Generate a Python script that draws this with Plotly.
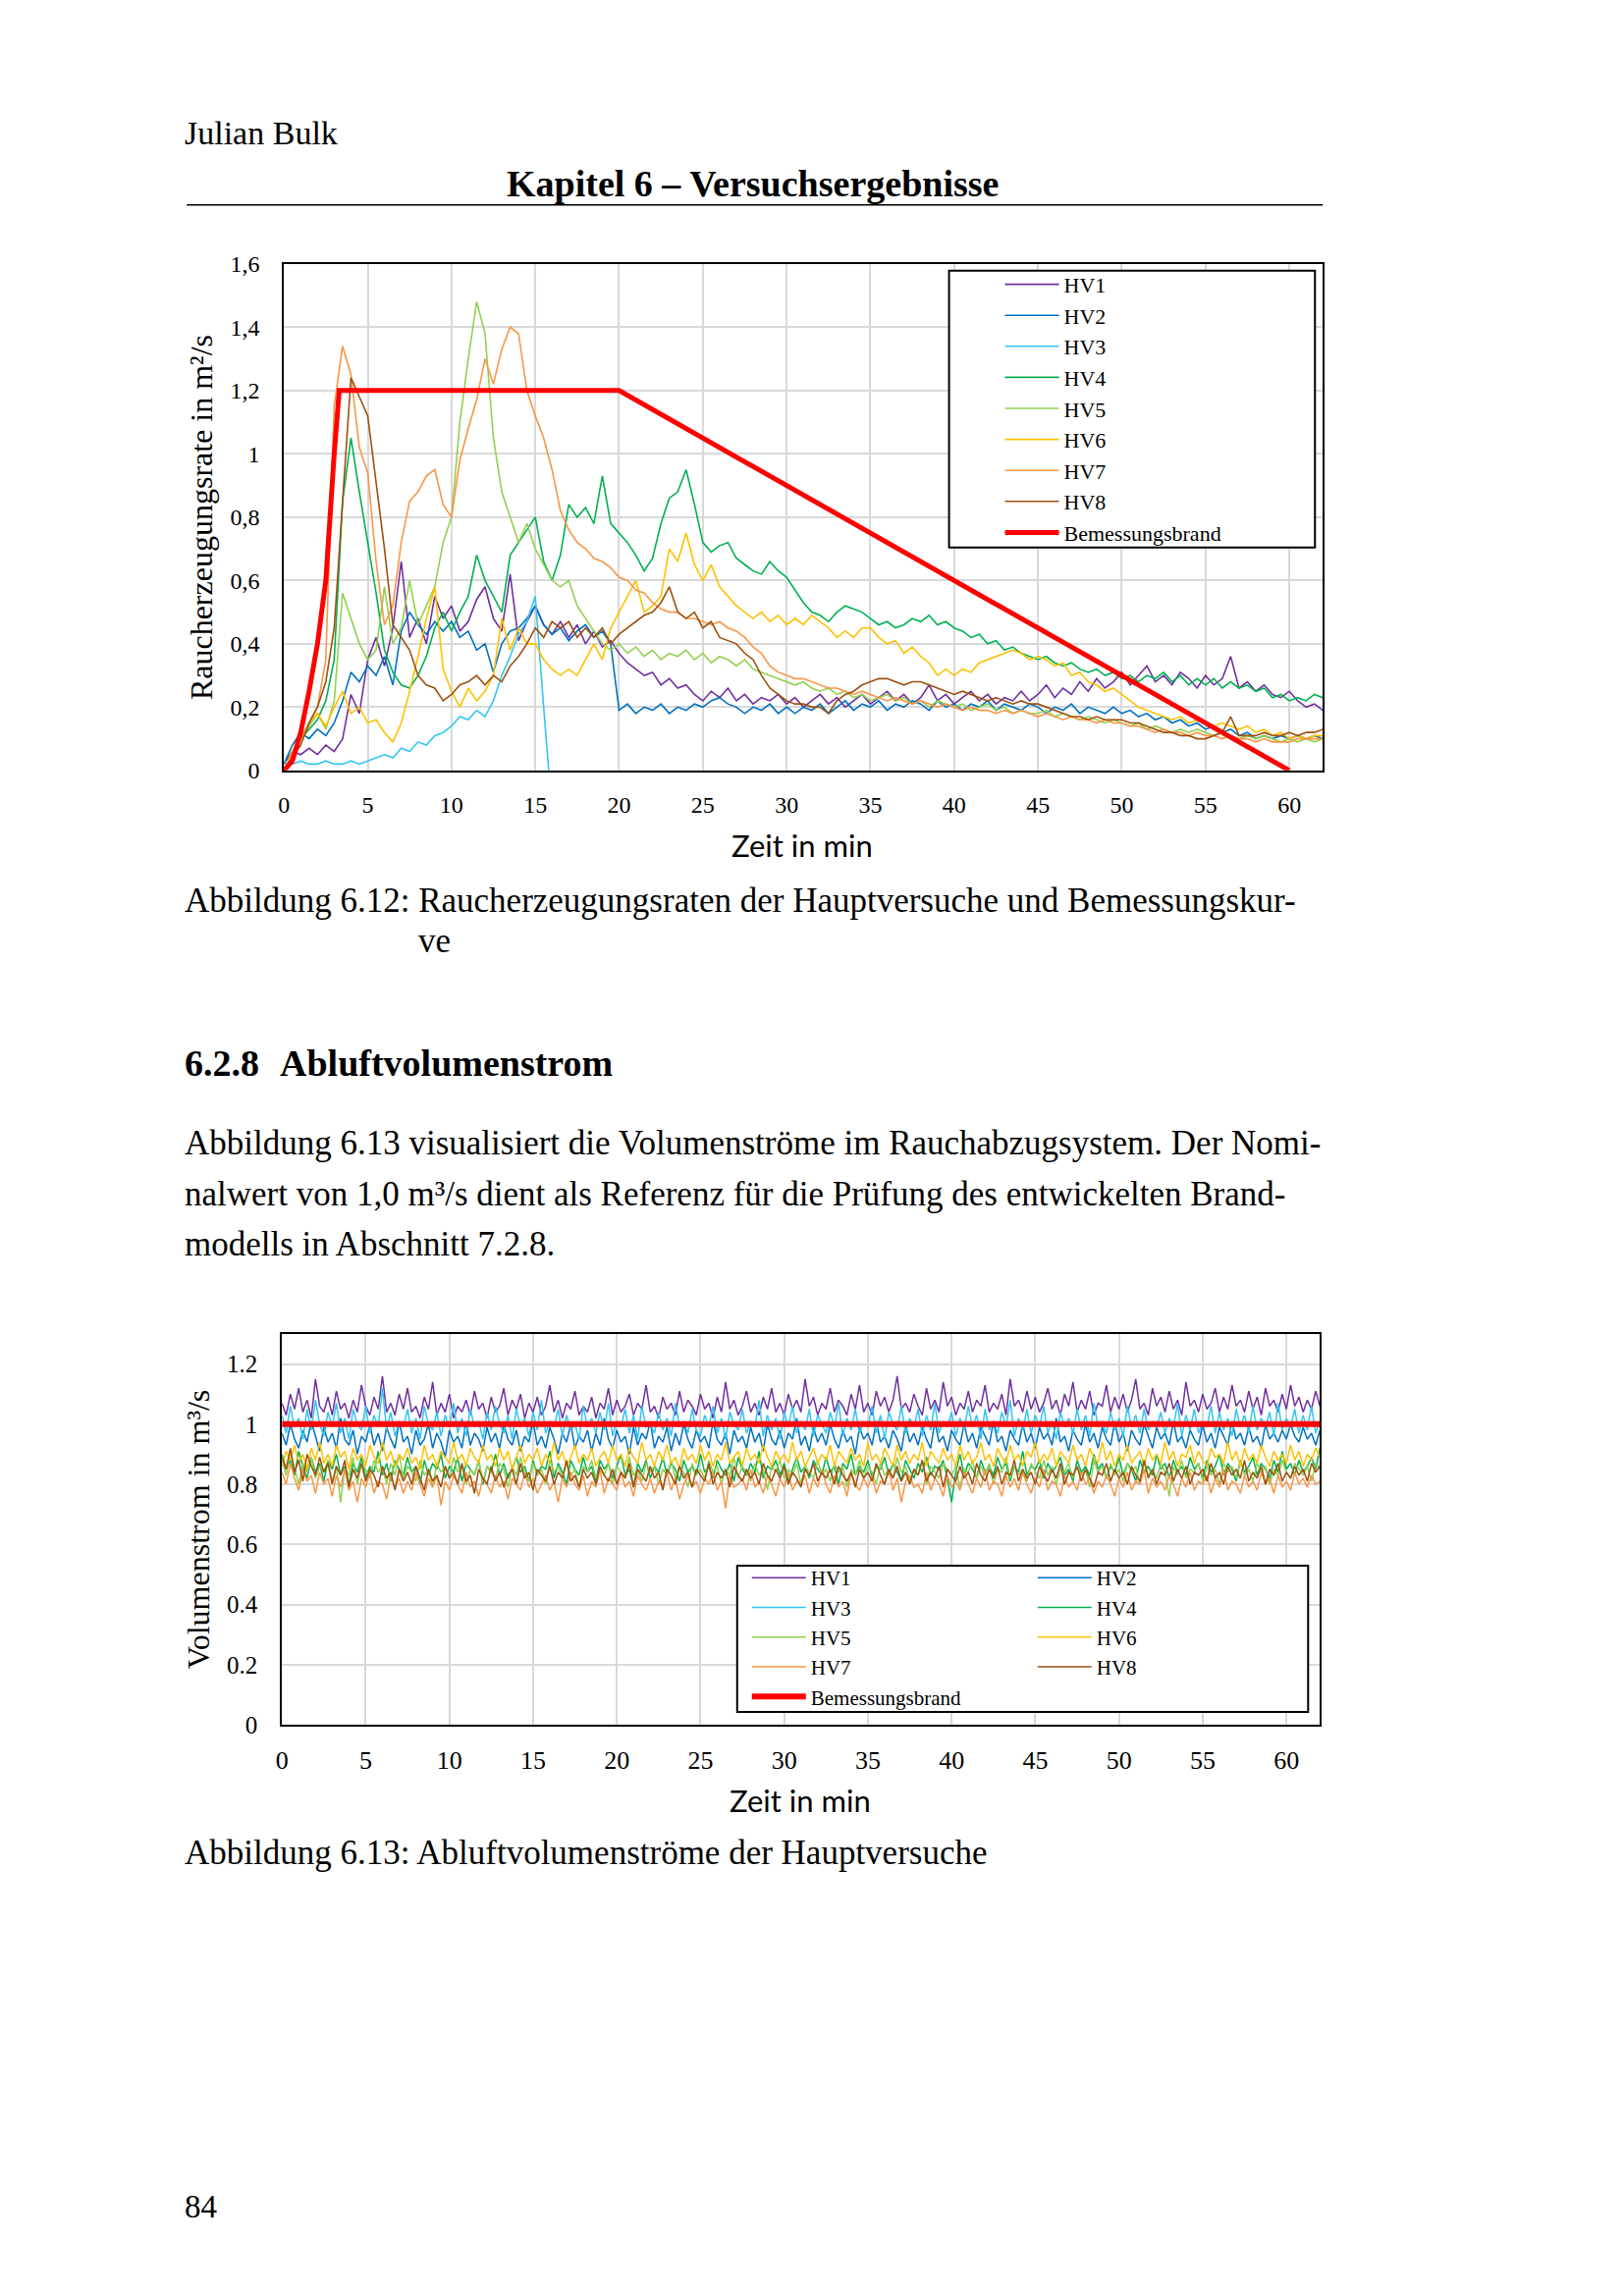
import plotly.graph_objects as go

# ---------------- page geometry helpers (reference pixels -> paper coords) ----
W, H = 1638, 2280
# measured placement of the figure in the final picture:
#   final_x = 0.9966 * (fig_x + 8) + 5.6
#   final_y = 0.988 * fig_y + 22.25
SX, BX = 0.9966, 5.6
SY, BY = 0.988, 22.25


def px(x):
    return ((x - BX) / SX - 8) / W


def py(y):
    return 1 - ((y - BY) / SY) / H


# ---------------- data: Abbildung 6.12 (Raucherzeugungsrate, m²/s) ------------
TIME = [i * 0.5 for i in range(125)]          # minutes, 0 ... 62
TIME_HV3 = TIME[:32] + [15.8]

HV1 = [0.02, 0.06, 0.05, 0.07, 0.05, 0.08, 0.06, 0.10, 0.24, 0.18,
       0.35, 0.42, 0.33, 0.45, 0.66, 0.42, 0.48, 0.40, 0.55, 0.48,
       0.52, 0.44, 0.47, 0.54, 0.58, 0.48, 0.44, 0.62, 0.41, 0.47,
       0.52, 0.46, 0.43, 0.47, 0.42, 0.46, 0.40, 0.44, 0.39, 0.41,
       0.37, 0.34, 0.32, 0.30, 0.31, 0.27, 0.29, 0.26, 0.27, 0.24,
       0.22, 0.25, 0.23, 0.26, 0.22, 0.24, 0.21, 0.23, 0.22, 0.24,
       0.21, 0.23, 0.20, 0.22, 0.24, 0.21, 0.23, 0.20, 0.22, 0.24,
       0.21, 0.23, 0.25, 0.22, 0.24, 0.21, 0.23, 0.27, 0.22, 0.24,
       0.21, 0.23, 0.25, 0.22, 0.24, 0.21, 0.23, 0.22, 0.25, 0.22,
       0.24, 0.27, 0.23, 0.26, 0.24, 0.28, 0.25, 0.29, 0.26, 0.28,
       0.31, 0.27, 0.30, 0.33, 0.28, 0.30, 0.27, 0.31, 0.29, 0.26,
       0.30, 0.27, 0.29, 0.36, 0.26, 0.28, 0.25, 0.27, 0.24, 0.23,
       0.25, 0.22, 0.20, 0.21, 0.19]
HV2 = [0.02, 0.08, 0.12, 0.10, 0.13, 0.11, 0.15, 0.22, 0.31, 0.28,
       0.33, 0.30, 0.36, 0.27, 0.44, 0.50, 0.46, 0.43, 0.47, 0.44,
       0.47, 0.42, 0.44, 0.38, 0.40, 0.31, 0.40, 0.44, 0.45, 0.48,
       0.52, 0.46, 0.43, 0.45, 0.41, 0.44, 0.46, 0.42, 0.44, 0.40,
       0.19, 0.21, 0.18, 0.20, 0.19, 0.21, 0.18, 0.20, 0.19, 0.21,
       0.20, 0.22, 0.23, 0.21, 0.20, 0.18, 0.20, 0.19, 0.21, 0.18,
       0.20, 0.18, 0.20, 0.19, 0.21, 0.18, 0.20, 0.22, 0.19, 0.21,
       0.20, 0.22, 0.19, 0.21, 0.20, 0.22, 0.21, 0.19, 0.22, 0.20,
       0.21, 0.19, 0.21, 0.20, 0.22, 0.19, 0.21, 0.20, 0.19, 0.21,
       0.20, 0.18, 0.20, 0.19, 0.21, 0.18, 0.20, 0.19, 0.18, 0.20,
       0.18, 0.19, 0.17, 0.18, 0.16, 0.17, 0.15, 0.16, 0.14, 0.15,
       0.13, 0.14, 0.12, 0.13, 0.11, 0.12, 0.10, 0.11, 0.10, 0.11,
       0.10, 0.11, 0.10, 0.11, 0.10]
HV3 = [0.03, 0.02, 0.03, 0.02, 0.02, 0.03, 0.02, 0.02, 0.03, 0.02,
       0.03, 0.04, 0.05, 0.04, 0.07, 0.06, 0.09, 0.08, 0.11, 0.12,
       0.14, 0.17, 0.16, 0.19, 0.17, 0.22, 0.30, 0.36, 0.43, 0.47,
       0.55, 0.20, 0.00]
HV4 = [0.00, 0.05, 0.10, 0.13, 0.16, 0.22, 0.35, 0.85, 1.05, 0.88,
       0.72, 0.56, 0.38, 0.31, 0.27, 0.26, 0.30, 0.36, 0.45, 0.50,
       0.44, 0.50, 0.55, 0.68, 0.60, 0.55, 0.50, 0.68, 0.72, 0.76,
       0.80, 0.66, 0.60, 0.68, 0.84, 0.80, 0.83, 0.78, 0.93, 0.78,
       0.75, 0.72, 0.68, 0.63, 0.67, 0.78, 0.86, 0.88, 0.95, 0.84,
       0.72, 0.69, 0.71, 0.72, 0.67, 0.65, 0.63, 0.62, 0.66, 0.63,
       0.61, 0.57, 0.53, 0.50, 0.49, 0.47, 0.50, 0.52, 0.51, 0.50,
       0.48, 0.46, 0.47, 0.45, 0.46, 0.48, 0.47, 0.49, 0.46, 0.47,
       0.45, 0.44, 0.42, 0.43, 0.40, 0.41, 0.38, 0.39, 0.37, 0.36,
       0.35, 0.36, 0.34, 0.33, 0.34, 0.32, 0.31, 0.32, 0.30, 0.31,
       0.29, 0.30, 0.28, 0.30, 0.29, 0.31, 0.28, 0.30, 0.27, 0.29,
       0.27, 0.29, 0.26, 0.28, 0.26, 0.27, 0.25, 0.26, 0.23, 0.24,
       0.22, 0.23, 0.22, 0.24, 0.23]
HV5 = [0.00, 0.05, 0.10, 0.14, 0.18, 0.13, 0.22, 0.56, 0.48, 0.40,
       0.35, 0.38, 0.58, 0.40, 0.45, 0.60, 0.46, 0.52, 0.58, 0.72,
       0.80, 1.10, 1.30, 1.48, 1.38, 1.05, 0.88, 0.80, 0.72, 0.78,
       0.70, 0.65, 0.60, 0.58, 0.60, 0.52, 0.48, 0.44, 0.40, 0.38,
       0.40, 0.37, 0.39, 0.36, 0.38, 0.35, 0.37, 0.36, 0.38, 0.35,
       0.37, 0.34, 0.36, 0.35, 0.33, 0.35, 0.32, 0.31, 0.30, 0.29,
       0.28, 0.27, 0.28, 0.26, 0.25, 0.26, 0.24, 0.25, 0.23, 0.24,
       0.22, 0.23, 0.24, 0.22, 0.23, 0.21, 0.22, 0.20, 0.22, 0.21,
       0.20, 0.21, 0.19, 0.20, 0.21, 0.19, 0.20, 0.18, 0.19, 0.18,
       0.18, 0.19, 0.17, 0.18, 0.17, 0.16, 0.17, 0.16, 0.15, 0.16,
       0.15, 0.14, 0.15, 0.13, 0.14, 0.13, 0.12, 0.13, 0.12, 0.13,
       0.12, 0.11, 0.12, 0.11, 0.10, 0.11, 0.10, 0.11, 0.10, 0.09,
       0.10, 0.09, 0.10, 0.09, 0.10]
HV6 = [0.00, 0.06, 0.10, 0.15, 0.18, 0.14, 0.20, 0.25, 0.18, 0.20,
       0.15, 0.16, 0.12, 0.09, 0.15, 0.25, 0.36, 0.48, 0.58, 0.32,
       0.25, 0.20, 0.26, 0.22, 0.25, 0.30, 0.48, 0.38, 0.45, 0.40,
       0.40, 0.35, 0.32, 0.30, 0.32, 0.30, 0.35, 0.40, 0.35, 0.45,
       0.50, 0.55, 0.60, 0.50, 0.52, 0.55, 0.70, 0.66, 0.75, 0.65,
       0.60, 0.65, 0.58, 0.55, 0.52, 0.50, 0.48, 0.50, 0.47, 0.49,
       0.46, 0.48, 0.46, 0.49, 0.47, 0.45, 0.42, 0.44, 0.42, 0.45,
       0.45, 0.42, 0.40, 0.41, 0.37, 0.39, 0.36, 0.34, 0.30, 0.32,
       0.30, 0.32, 0.31, 0.34, 0.35, 0.36, 0.37, 0.38, 0.37, 0.35,
       0.36, 0.35, 0.33, 0.34, 0.30, 0.31, 0.28, 0.27, 0.25, 0.26,
       0.24, 0.22, 0.20, 0.19, 0.18, 0.17, 0.16, 0.17, 0.15, 0.16,
       0.15, 0.14, 0.15, 0.14, 0.13, 0.14, 0.12, 0.13, 0.11, 0.12,
       0.10, 0.11, 0.10, 0.11, 0.11]
HV7 = [0.00, 0.05, 0.10, 0.15, 0.20, 0.35, 1.15, 1.34, 1.25, 1.02,
       0.94, 0.66, 0.46, 0.52, 0.72, 0.85, 0.88, 0.93, 0.95, 0.84,
       0.80, 0.98, 1.08, 1.17, 1.30, 1.22, 1.33, 1.40, 1.38, 1.20,
       1.12, 1.05, 0.95, 0.82, 0.76, 0.72, 0.70, 0.67, 0.66, 0.64,
       0.61, 0.60, 0.57, 0.56, 0.53, 0.51, 0.50, 0.50, 0.48, 0.48,
       0.47, 0.46, 0.47, 0.45, 0.44, 0.42, 0.39, 0.37, 0.33, 0.31,
       0.30, 0.29, 0.29, 0.28, 0.27, 0.26, 0.26, 0.25, 0.24, 0.25,
       0.24, 0.23, 0.22, 0.23, 0.22, 0.21, 0.22, 0.21, 0.20, 0.21,
       0.20, 0.19, 0.20, 0.19, 0.19, 0.18, 0.19, 0.18, 0.19, 0.18,
       0.17, 0.18, 0.17, 0.16, 0.17, 0.16, 0.16, 0.15, 0.16, 0.15,
       0.15, 0.14, 0.14, 0.13, 0.12, 0.13, 0.12, 0.12, 0.11, 0.12,
       0.11, 0.11, 0.10, 0.11, 0.10, 0.10, 0.09, 0.10, 0.09, 0.09,
       0.09, 0.10, 0.10, 0.10, 0.10]
HV8 = [0.00, 0.04, 0.08, 0.15, 0.20, 0.28, 0.45, 0.85, 1.24, 1.18,
       1.12, 0.91, 0.70, 0.46, 0.42, 0.38, 0.30, 0.27, 0.26, 0.22,
       0.24, 0.27, 0.28, 0.30, 0.27, 0.30, 0.28, 0.33, 0.36, 0.40,
       0.45, 0.42, 0.47, 0.45, 0.47, 0.42, 0.45, 0.42, 0.45, 0.40,
       0.43, 0.45, 0.47, 0.49, 0.50, 0.53, 0.58, 0.50, 0.48, 0.50,
       0.45, 0.47, 0.42, 0.41, 0.40, 0.37, 0.35, 0.30, 0.26, 0.24,
       0.22, 0.21, 0.21, 0.20, 0.20, 0.18, 0.22, 0.24, 0.25, 0.27,
       0.28, 0.29, 0.29, 0.28, 0.27, 0.28, 0.28, 0.27, 0.26, 0.25,
       0.24, 0.25, 0.24, 0.23, 0.22, 0.23, 0.22, 0.21, 0.22, 0.21,
       0.21, 0.20, 0.19, 0.18, 0.17, 0.17, 0.16, 0.17, 0.16, 0.16,
       0.16, 0.15, 0.15, 0.14, 0.13, 0.12, 0.12, 0.11, 0.11, 0.10,
       0.10, 0.11, 0.12, 0.17, 0.11, 0.11, 0.11, 0.12, 0.11, 0.11,
       0.12, 0.11, 0.12, 0.12, 0.13]
DESIGN_T = [0, 0.5, 1, 1.5, 2, 2.5, 3, 3.3, 20, 60]
DESIGN_V = [0, 0.03, 0.12, 0.25, 0.40, 0.60, 1.00, 1.20, 1.20, 0.00]

# ---------------- data: Abbildung 6.13 (Volumenstrom, m³/s) ------------------
TIME2 = [i * 0.25 for i in range(249)]        # minutes, 0 ... 62

VHV1 = [1.07, 1.03, 1.10, 1.05, 1.12, 1.04, 1.08, 1.02, 1.15, 1.06,
        1.04, 1.09, 1.03, 1.11, 1.05, 1.07, 1.02, 1.08, 1.04, 1.13,
        1.06, 1.03, 1.09, 1.05, 1.16, 1.04, 1.07, 1.03, 1.10, 1.05,
        1.12, 1.04, 1.06, 1.02, 1.09, 1.05, 1.14, 1.03, 1.07, 1.04,
        1.10, 1.02, 1.06, 1.04, 1.08, 1.03, 1.11, 1.05, 1.07, 1.02,
        1.09, 1.04, 1.06, 1.12, 1.03, 1.08, 1.05, 1.10, 1.02, 1.07,
        1.04, 1.09, 1.03, 1.06, 1.13, 1.04, 1.08, 1.02, 1.07, 1.05,
        1.11, 1.03, 1.06, 1.04, 1.09, 1.02, 1.07, 1.05, 1.12, 1.03,
        1.08, 1.04, 1.06, 1.10, 1.03, 1.07, 1.05, 1.13, 1.04, 1.06,
        1.02, 1.09, 1.05, 1.07, 1.03, 1.11, 1.04, 1.08, 1.06, 1.03,
        1.10, 1.05, 1.07, 1.02, 1.09, 1.04, 1.14, 1.05, 1.08, 1.03,
        1.06, 1.11, 1.04, 1.07, 1.03, 1.09, 1.05, 1.12, 1.04, 1.07,
        1.03, 1.10, 1.05, 1.08, 1.04, 1.15, 1.06, 1.09, 1.03, 1.07,
        1.05, 1.12, 1.04, 1.08, 1.06, 1.03, 1.10, 1.05, 1.13, 1.04,
        1.07, 1.03, 1.11, 1.06, 1.09, 1.04, 1.08, 1.16, 1.05, 1.07,
        1.04, 1.10, 1.06, 1.03, 1.12, 1.05, 1.08, 1.04, 1.14, 1.06,
        1.09, 1.03, 1.07, 1.05, 1.11, 1.04, 1.08, 1.06, 1.13, 1.04,
        1.07, 1.05, 1.10, 1.03, 1.15, 1.06, 1.08, 1.04, 1.11, 1.05,
        1.09, 1.04, 1.07, 1.12, 1.05, 1.08, 1.03, 1.10, 1.06, 1.14,
        1.04, 1.08, 1.05, 1.11, 1.03, 1.07, 1.06, 1.13, 1.04, 1.09,
        1.05, 1.10, 1.04, 1.08, 1.15, 1.05, 1.07, 1.03, 1.12, 1.06,
        1.09, 1.04, 1.11, 1.05, 1.08, 1.03, 1.14, 1.06, 1.08, 1.04,
        1.10, 1.05, 1.07, 1.12, 1.04, 1.09, 1.05, 1.13, 1.06, 1.08,
        1.04, 1.11, 1.05, 1.09, 1.03, 1.12, 1.06, 1.08, 1.04, 1.10,
        1.05, 1.13, 1.06, 1.09, 1.04, 1.08, 1.05, 1.11, 1.06]
VHV2 = [0.97, 0.93, 1.00, 0.95, 0.92, 0.98, 0.94, 1.01, 0.96, 0.91,
        0.99, 0.94, 0.97, 0.92, 1.02, 0.95, 0.93, 0.98, 0.90, 0.96,
        0.94, 1.00, 0.93, 0.97, 0.91, 0.99, 0.95, 0.92, 1.01, 0.94,
        0.96, 0.90, 0.98, 0.93, 0.95, 1.00, 0.92, 0.97, 0.94, 0.89,
        0.98, 0.94, 0.96, 0.92, 1.01, 0.93, 0.97, 0.95, 0.91, 0.99,
        0.94, 0.97, 0.92, 1.00, 0.95, 0.93, 0.98, 0.91, 0.96, 0.94,
        1.01, 0.93, 0.96, 0.92, 0.99, 0.95, 0.90, 0.97, 0.94, 1.00,
        0.92, 0.96, 0.94, 0.98, 0.91, 0.97, 0.93, 1.02, 0.95, 0.92,
        0.98, 0.94, 0.96, 0.90, 0.99, 0.93, 0.97, 0.95, 1.01, 0.92,
        0.96, 0.94, 0.99, 0.91, 0.97, 0.93, 1.00, 0.95, 0.92, 0.98,
        0.94, 0.96, 0.92, 1.01, 0.95, 0.93, 0.97, 0.90, 0.98, 0.94,
        0.96, 0.92, 0.99, 0.94, 0.97, 0.91, 1.00, 0.95, 0.93, 0.98,
        0.92, 0.97, 0.95, 1.02, 0.93, 0.96, 0.91, 0.99, 0.94, 0.97,
        0.93, 1.00, 0.95, 0.92, 0.98, 0.94, 0.96, 0.90, 0.99, 0.95,
        0.97, 0.93, 1.01, 0.94, 0.96, 0.92, 0.98, 0.95, 0.91, 1.00,
        0.94, 0.97, 0.93, 0.99, 0.95, 0.92, 1.01, 0.94, 0.96, 0.91,
        0.98, 0.95, 0.93, 1.00, 0.94, 0.97, 0.92, 0.99, 0.96, 0.93,
        1.01, 0.94, 0.96, 0.91, 0.98, 0.95, 0.93, 1.00, 0.94, 0.97,
        0.92, 0.99, 0.95, 0.97, 0.93, 1.02, 0.94, 0.96, 0.91, 0.98,
        0.95, 0.93, 1.00, 0.94, 0.97, 0.92, 0.99, 0.95, 0.93, 1.01,
        0.94, 0.97, 0.91, 0.98, 0.95, 0.93, 1.00, 0.96, 0.92, 0.99,
        0.95, 0.97, 0.93, 1.01, 0.94, 0.96, 0.92, 0.98, 0.95, 0.93,
        1.00, 0.94, 0.97, 0.92, 0.99, 0.96, 0.93, 1.01, 0.95, 0.97,
        0.93, 0.99, 0.94, 0.96, 0.92, 1.00, 0.95, 0.97, 0.94, 0.98,
        0.95, 1.00, 0.96, 0.94, 0.99, 0.95, 0.97, 0.93, 0.98]
VHV3 = [1.03, 0.97, 1.06, 0.99, 1.02, 0.95, 1.05, 0.98, 1.08, 1.00,
        0.96, 1.04, 0.99, 1.07, 0.97, 1.02, 0.95, 1.05, 1.00, 0.98,
        1.06, 0.97, 1.03, 0.99, 1.12, 0.98, 1.04, 0.96, 1.01, 0.99,
        1.05, 0.97, 1.02, 0.95, 1.06, 1.00, 0.98, 1.04, 0.96, 1.03,
        0.99, 1.07, 0.97, 1.02, 0.96, 1.05, 0.99, 1.01, 0.95, 1.04,
        0.98, 1.06, 1.00, 0.97, 1.03, 0.95, 1.05, 0.99, 1.02, 0.96,
        1.04, 0.98, 1.08, 0.97, 1.01, 0.99, 1.05, 0.96, 1.03, 0.98,
        1.00, 0.95, 1.06, 0.99, 1.02, 0.97, 1.04, 0.98, 1.07, 0.96,
        1.01, 0.99, 1.05, 0.97, 1.03, 0.95, 1.06, 0.99, 1.00, 0.97,
        1.04, 0.98, 1.02, 0.96, 1.07, 0.99, 1.01, 0.97, 1.05, 0.98,
        0.96, 1.03, 0.99, 1.06, 0.97, 1.02, 0.95, 1.04, 1.00, 0.98,
        1.05, 0.97, 1.01, 0.99, 1.08, 0.96, 1.03, 0.98, 1.02, 0.95,
        1.04, 0.99, 1.06, 0.97, 1.01, 0.98, 1.05, 0.96, 1.03, 1.00,
        0.97, 1.04, 0.99, 1.07, 0.96, 1.02, 0.98, 1.05, 0.97, 1.01,
        0.99, 1.06, 0.97, 1.03, 0.95, 1.04, 1.00, 0.98, 1.06, 0.97,
        1.02, 0.99, 1.05, 0.96, 1.03, 0.98, 1.07, 0.97, 1.01, 0.99,
        1.04, 0.96, 1.02, 0.98, 1.06, 0.99, 1.03, 0.95, 1.05, 0.98,
        1.01, 0.97, 1.04, 0.99, 1.08, 0.96, 1.02, 0.98, 1.05, 0.97,
        1.03, 0.99, 1.06, 0.97, 1.01, 0.95, 1.04, 0.99, 1.02, 0.97,
        1.05, 0.98, 1.03, 0.96, 1.07, 0.99, 1.01, 0.97, 1.04, 0.98,
        1.02, 0.96, 1.06, 0.99, 1.03, 0.97, 1.05, 0.98, 1.01, 0.99,
        1.04, 0.97, 1.02, 0.99, 1.07, 0.96, 1.03, 0.98, 1.05, 0.97,
        1.01, 0.99, 1.06, 0.97, 1.04, 0.98, 1.02, 0.96, 1.05, 0.99,
        1.03, 0.97, 1.06, 0.98, 1.02, 0.99, 1.04, 0.96, 1.07, 0.98,
        1.02, 0.99, 1.05, 0.97, 1.03, 0.98, 1.06, 0.97, 1.01]
VHV4 = [0.90, 0.85, 0.88, 0.83, 0.91, 0.86, 0.82, 0.89, 0.84, 0.87,
        0.81, 0.88, 0.85, 0.90, 0.83, 0.86, 0.80, 0.87, 0.84, 0.89,
        0.82, 0.86, 0.84, 0.91, 0.83, 0.87, 0.81, 0.88, 0.85, 0.83,
        0.89, 0.84, 0.86, 0.80, 0.88, 0.83, 0.87, 0.85, 0.90, 0.82,
        0.86, 0.84, 0.89, 0.81, 0.87, 0.85, 0.83, 0.88, 0.80, 0.86,
        0.84, 0.90, 0.83, 0.87, 0.82, 0.85, 0.89, 0.84, 0.86, 0.81,
        0.88, 0.83, 0.86, 0.85, 0.91, 0.82, 0.87, 0.84, 0.80, 0.88,
        0.85, 0.83, 0.89, 0.84, 0.86, 0.81, 0.88, 0.85, 0.87, 0.82,
        0.86, 0.90, 0.83, 0.85, 0.79, 0.87, 0.84, 0.88, 0.82, 0.86,
        0.84, 0.89, 0.83, 0.87, 0.85, 0.81, 0.88, 0.84, 0.86, 0.83,
        0.90, 0.84, 0.86, 0.82, 0.88, 0.85, 0.83, 0.87, 0.81, 0.89,
        0.85, 0.83, 0.87, 0.84, 0.91, 0.82, 0.86, 0.85, 0.88, 0.83,
        0.87, 0.81, 0.85, 0.89, 0.84, 0.86, 0.82, 0.88, 0.85, 0.83,
        0.89, 0.84, 0.86, 0.80, 0.87, 0.85, 0.90, 0.83, 0.86, 0.84,
        0.88, 0.82, 0.86, 0.85, 0.89, 0.83, 0.87, 0.84, 0.81, 0.88,
        0.85, 0.82, 0.87, 0.84, 0.89, 0.83, 0.86, 0.85, 0.88, 0.82,
        0.74, 0.84, 0.90, 0.83, 0.87, 0.85, 0.82, 0.88, 0.84, 0.86,
        0.83, 0.89, 0.85, 0.87, 0.81, 0.86, 0.84, 0.91, 0.83, 0.86,
        0.85, 0.88, 0.82, 0.87, 0.84, 0.86, 0.89, 0.83, 0.85, 0.81,
        0.88, 0.84, 0.86, 0.83, 0.90, 0.85, 0.87, 0.82, 0.86, 0.84,
        0.89, 0.83, 0.87, 0.85, 0.81, 0.88, 0.84, 0.86, 0.83, 0.90,
        0.85, 0.87, 0.82, 0.88, 0.84, 0.86, 0.83, 0.89, 0.85, 0.87,
        0.82, 0.88, 0.84, 0.86, 0.90, 0.83, 0.87, 0.85, 0.81, 0.88,
        0.84, 0.86, 0.89, 0.83, 0.87, 0.85, 0.82, 0.88, 0.84, 0.91,
        0.85, 0.87, 0.83, 0.88, 0.84, 0.86, 0.89, 0.85, 0.92]
VHV5 = [0.88, 0.83, 0.91, 0.85, 0.80, 0.87, 0.84, 0.89, 0.82, 0.86,
        0.84, 0.88, 0.81, 0.86, 0.74, 0.85, 0.83, 0.89, 0.80, 0.87,
        0.85, 0.82, 0.88, 0.84, 0.86, 0.80, 0.87, 0.83, 0.90, 0.82,
        0.86, 0.84, 0.81, 0.88, 0.83, 0.85, 0.79, 0.87, 0.84, 0.86,
        0.82, 0.89, 0.84, 0.86, 0.80, 0.85, 0.83, 0.88, 0.81, 0.86,
        0.84, 0.82, 0.87, 0.85, 0.79, 0.86, 0.83, 0.89, 0.84, 0.81,
        0.87, 0.83, 0.85, 0.80, 0.88, 0.84, 0.86, 0.82, 0.87, 0.83,
        0.85, 0.79, 0.86, 0.84, 0.88, 0.82, 0.85, 0.83, 0.87, 0.80,
        0.86, 0.84, 0.82, 0.89, 0.83, 0.85, 0.81, 0.87, 0.84, 0.86,
        0.80, 0.85, 0.83, 0.88, 0.82, 0.86, 0.84, 0.79, 0.87, 0.83,
        0.85, 0.82, 0.88, 0.84, 0.86, 0.80, 0.85, 0.83, 0.89, 0.82,
        0.86, 0.84, 0.81, 0.87, 0.83, 0.85, 0.78, 0.86, 0.84, 0.88,
        0.82, 0.85, 0.83, 0.87, 0.80, 0.86, 0.84, 0.82, 0.88, 0.83,
        0.85, 0.81, 0.87, 0.84, 0.86, 0.79, 0.85, 0.83, 0.88, 0.82,
        0.86, 0.84, 0.80, 0.87, 0.83, 0.85, 0.82, 0.89, 0.84, 0.86,
        0.81, 0.85, 0.83, 0.88, 0.80, 0.86, 0.84, 0.82, 0.87, 0.85,
        0.83, 0.86, 0.79, 0.85, 0.84, 0.88, 0.82, 0.86, 0.83, 0.87,
        0.80, 0.85, 0.84, 0.89, 0.82, 0.86, 0.83, 0.85, 0.81, 0.87,
        0.84, 0.82, 0.88, 0.83, 0.86, 0.80, 0.85, 0.84, 0.87, 0.82,
        0.86, 0.83, 0.85, 0.79, 0.88, 0.84, 0.86, 0.82, 0.87, 0.83,
        0.85, 0.81, 0.87, 0.84, 0.86, 0.80, 0.88, 0.83, 0.85, 0.82,
        0.87, 0.84, 0.76, 0.86, 0.83, 0.88, 0.82, 0.85, 0.84, 0.87,
        0.81, 0.86, 0.83, 0.85, 0.80, 0.87, 0.84, 0.86, 0.82, 0.88,
        0.83, 0.85, 0.81, 0.87, 0.84, 0.86, 0.80, 0.85, 0.83, 0.88,
        0.84, 0.82, 0.87, 0.85, 0.83, 0.86, 0.81, 0.87, 0.85]
VHV6 = [0.86, 0.91, 0.88, 0.93, 0.87, 0.90, 0.85, 0.92, 0.88, 0.94,
        0.87, 0.90, 0.86, 0.93, 0.89, 0.91, 0.85, 0.92, 0.88, 0.90,
        0.86, 0.93, 0.89, 0.87, 0.94, 0.88, 0.91, 0.86, 0.90, 0.88,
        0.92, 0.87, 0.89, 0.85, 0.93, 0.88, 0.90, 0.86, 0.91, 0.89,
        0.87, 0.94, 0.88, 0.90, 0.86, 0.92, 0.89, 0.87, 0.93, 0.88,
        0.90, 0.86, 0.92, 0.88, 0.91, 0.85, 0.89, 0.93, 0.87, 0.90,
        0.88, 0.92, 0.86, 0.90, 0.87, 0.94, 0.88, 0.91, 0.86, 0.89,
        0.93, 0.87, 0.90, 0.88, 0.92, 0.86, 0.89, 0.91, 0.87, 0.93,
        0.88, 0.90, 0.86, 0.92, 0.89, 0.87, 0.94, 0.88, 0.90, 0.86,
        0.91, 0.88, 0.93, 0.87, 0.89, 0.85, 0.92, 0.88, 0.90, 0.87,
        0.93, 0.88, 0.91, 0.86, 0.90, 0.88, 0.94, 0.87, 0.89, 0.91,
        0.86, 0.92, 0.88, 0.90, 0.87, 0.93, 0.89, 0.86, 0.91, 0.88,
        0.90, 0.87, 0.94, 0.88, 0.91, 0.86, 0.89, 0.92, 0.87, 0.90,
        0.88, 0.93, 0.86, 0.91, 0.89, 0.87, 0.92, 0.88, 0.90, 0.86,
        0.94, 0.88, 0.90, 0.87, 0.92, 0.89, 0.86, 0.93, 0.88, 0.91,
        0.87, 0.90, 0.88, 0.94, 0.86, 0.91, 0.89, 0.87, 0.92, 0.88,
        0.90, 0.86, 0.93, 0.88, 0.91, 0.87, 0.89, 0.94, 0.88, 0.90,
        0.86, 0.92, 0.89, 0.87, 0.93, 0.88, 0.90, 0.86, 0.91, 0.89,
        0.94, 0.87, 0.90, 0.88, 0.92, 0.86, 0.91, 0.89, 0.87, 0.93,
        0.88, 0.90, 0.86, 0.92, 0.89, 0.87, 0.94, 0.88, 0.91, 0.86,
        0.90, 0.88, 0.93, 0.87, 0.89, 0.91, 0.86, 0.92, 0.88, 0.90,
        0.87, 0.94, 0.88, 0.91, 0.86, 0.90, 0.89, 0.93, 0.87, 0.91,
        0.88, 0.86, 0.92, 0.89, 0.90, 0.87, 0.94, 0.88, 0.91, 0.86,
        0.92, 0.88, 0.90, 0.87, 0.93, 0.89, 0.86, 0.91, 0.88, 0.90,
        0.87, 0.93, 0.88, 0.91, 0.86, 0.90, 0.88, 0.92, 0.89]
VHV7 = [0.84, 0.80, 0.87, 0.82, 0.78, 0.85, 0.81, 0.83, 0.77, 0.84,
        0.80, 0.82, 0.76, 0.83, 0.79, 0.85, 0.78, 0.81, 0.74, 0.82,
        0.79, 0.84, 0.77, 0.81, 0.80, 0.75, 0.83, 0.79, 0.82, 0.77,
        0.81, 0.78, 0.84, 0.80, 0.76, 0.82, 0.79, 0.83, 0.73, 0.81,
        0.78, 0.83, 0.80, 0.77, 0.84, 0.79, 0.81, 0.76, 0.82, 0.80,
        0.77, 0.83, 0.79, 0.81, 0.75, 0.82, 0.80, 0.78, 0.84, 0.79,
        0.82, 0.77, 0.80, 0.83, 0.78, 0.81, 0.74, 0.82, 0.79, 0.84,
        0.80, 0.78, 0.83, 0.76, 0.81, 0.79, 0.85, 0.77, 0.82, 0.80,
        0.78, 0.84, 0.79, 0.81, 0.76, 0.83, 0.80, 0.78, 0.82, 0.77,
        0.81, 0.79, 0.84, 0.78, 0.82, 0.75, 0.80, 0.83, 0.79, 0.81,
        0.77, 0.82, 0.80, 0.84, 0.78, 0.81, 0.72, 0.83, 0.79, 0.80,
        0.82, 0.78, 0.85, 0.79, 0.81, 0.77, 0.83, 0.80, 0.76, 0.82,
        0.79, 0.84, 0.78, 0.81, 0.80, 0.83, 0.77, 0.82, 0.79, 0.85,
        0.80, 0.77, 0.83, 0.79, 0.81, 0.76, 0.84, 0.80, 0.78, 0.82,
        0.79, 0.83, 0.77, 0.81, 0.80, 0.85, 0.78, 0.82, 0.74, 0.81,
        0.83, 0.79, 0.80, 0.77, 0.84, 0.78, 0.82, 0.80, 0.76, 0.83,
        0.79, 0.81, 0.78, 0.84, 0.80, 0.77, 0.82, 0.79, 0.85, 0.78,
        0.81, 0.80, 0.76, 0.83, 0.79, 0.82, 0.78, 0.84, 0.80, 0.77,
        0.82, 0.79, 0.85, 0.78, 0.81, 0.80, 0.76, 0.83, 0.79, 0.81,
        0.78, 0.84, 0.80, 0.82, 0.77, 0.81, 0.79, 0.83, 0.80, 0.76,
        0.82, 0.79, 0.84, 0.78, 0.81, 0.80, 0.85, 0.77, 0.82, 0.79,
        0.81, 0.78, 0.83, 0.80, 0.76, 0.82, 0.79, 0.84, 0.78, 0.81,
        0.80, 0.83, 0.77, 0.82, 0.79, 0.85, 0.78, 0.81, 0.80, 0.77,
        0.83, 0.79, 0.81, 0.78, 0.84, 0.80, 0.82, 0.77, 0.83, 0.79,
        0.81, 0.78, 0.84, 0.80, 0.82, 0.79, 0.83, 0.80, 0.81]
VHV8 = [0.89, 0.85, 0.92, 0.84, 0.88, 0.81, 0.90, 0.86, 0.83, 0.89,
        0.84, 0.87, 0.80, 0.86, 0.83, 0.88, 0.79, 0.85, 0.82, 0.87,
        0.81, 0.85, 0.83, 0.79, 0.86, 0.82, 0.84, 0.78, 0.85, 0.81,
        0.84, 0.80, 0.86, 0.82, 0.78, 0.85, 0.81, 0.83, 0.79, 0.86,
        0.82, 0.84, 0.80, 0.87, 0.81, 0.83, 0.77, 0.85, 0.82, 0.80,
        0.86, 0.81, 0.84, 0.79, 0.83, 0.85, 0.80, 0.87, 0.82, 0.84,
        0.78, 0.85, 0.83, 0.81, 0.86, 0.80, 0.84, 0.82, 0.88, 0.81,
        0.83, 0.79, 0.85, 0.82, 0.84, 0.80, 0.86, 0.83, 0.81, 0.85,
        0.80, 0.84, 0.82, 0.87, 0.79, 0.85, 0.83, 0.81, 0.86, 0.82,
        0.84, 0.78, 0.85, 0.83, 0.80, 0.86, 0.82, 0.84, 0.79, 0.85,
        0.83, 0.81, 0.87, 0.80, 0.84, 0.82, 0.85, 0.79, 0.86, 0.83,
        0.81, 0.85, 0.82, 0.84, 0.80, 0.87, 0.83, 0.81, 0.85, 0.82,
        0.86, 0.80, 0.84, 0.82, 0.79, 0.85, 0.83, 0.87, 0.81, 0.84,
        0.82, 0.85, 0.80, 0.86, 0.83, 0.81, 0.84, 0.79, 0.85, 0.82,
        0.84, 0.81, 0.87, 0.83, 0.80, 0.85, 0.82, 0.86, 0.81, 0.84,
        0.80, 0.85, 0.83, 0.88, 0.81, 0.84, 0.82, 0.86, 0.79, 0.85,
        0.83, 0.81, 0.86, 0.82, 0.84, 0.80, 0.87, 0.83, 0.81, 0.85,
        0.82, 0.86, 0.80, 0.84, 0.83, 0.88, 0.81, 0.85, 0.82, 0.84,
        0.80, 0.86, 0.83, 0.81, 0.85, 0.82, 0.87, 0.80, 0.84, 0.83,
        0.86, 0.81, 0.85, 0.82, 0.79, 0.84, 0.83, 0.87, 0.81, 0.85,
        0.82, 0.84, 0.80, 0.86, 0.83, 0.81, 0.88, 0.82, 0.85, 0.80,
        0.84, 0.83, 0.87, 0.81, 0.85, 0.82, 0.86, 0.80, 0.84, 0.83,
        0.85, 0.81, 0.87, 0.82, 0.84, 0.80, 0.86, 0.83, 0.85, 0.82,
        0.88, 0.81, 0.84, 0.82, 0.86, 0.80, 0.85, 0.83, 0.87, 0.81,
        0.84, 0.82, 0.86, 0.83, 0.85, 0.81, 0.87, 0.84, 0.86]
DESIGN2_T = [0, 62]
DESIGN2_V = [1.0, 1.0]

NAMES = ["HV1", "HV2", "HV3", "HV4", "HV5", "HV6", "HV7", "HV8"]
COLORS = ["#7030A0", "#0070C0", "#33C5F3", "#00B050",
          "#92D050", "#FFC000", "#F79646", "#9E500E"]
DESIGN_NAME = "Bemessungsbrand"

X_TICKS = [0, 5, 10, 15, 20, 25, 30, 35, 40, 45, 50, 55, 60]
Y1_TICKS = [0, 0.2, 0.4, 0.6, 0.8, 1.0, 1.2, 1.4, 1.6]
Y1_TEXT = ["0", "0,2", "0,4", "0,6", "0,8", "1", "1,2", "1,4", "1,6"]
Y2_TICKS = [0, 0.2, 0.4, 0.6, 0.8, 1.0, 1.2]
Y2_TEXT = ["0", "0.2", "0.4", "0.6", "0.8", "1", "1.2"]

SERIF = "Liberation Serif"
SANS = "Lato"

fig = go.Figure()

# ---- chart 1 traces
series1 = [HV1, HV2, HV3, HV4, HV5, HV6, HV7, HV8]
for name, color, vals in zip(NAMES, COLORS, series1):
    xs = TIME_HV3 if name == "HV3" else TIME
    fig.add_trace(go.Scatter(x=xs, y=vals, mode="lines", name=name,
                             line=dict(color=color, width=1.6),
                             xaxis="x", yaxis="y", legend="legend"))
fig.add_trace(go.Scatter(x=DESIGN_T, y=DESIGN_V, mode="lines", name=DESIGN_NAME,
                         line=dict(color="#FF0000", width=5),
                         xaxis="x", yaxis="y", legend="legend"))

# ---- chart 2 traces
series2 = [VHV1, VHV2, VHV3, VHV4, VHV5, VHV6, VHV7, VHV8]
for i, (name, color, vals) in enumerate(zip(NAMES, COLORS, series2)):
    fig.add_trace(go.Scatter(x=TIME2, y=vals, mode="lines", name=name,
                             line=dict(color=color, width=1.5),
                             xaxis="x2", yaxis="y2", legend="legend2",
                             legendgroup="a" if i % 2 == 0 else "b"))
fig.add_trace(go.Scatter(x=DESIGN2_T, y=DESIGN2_V, mode="lines", name=DESIGN_NAME,
                         line=dict(color="#FF0000", width=6),
                         xaxis="x2", yaxis="y2", legend="legend2", legendgroup="a"))


def axis_style(size):
    return dict(showgrid=True, gridcolor="#D9D9D9", gridwidth=2,
                showline=True, linecolor="black", linewidth=2, mirror=True,
                zeroline=False, ticks="",
                tickfont=dict(family=SERIF, size=size, color="black"))


fig.update_layout(
    width=W, height=H, autosize=False,
    margin=dict(l=0, r=0, t=0, b=0, pad=0),
    paper_bgcolor="white", plot_bgcolor="white",
    xaxis=dict(domain=[px(288), px(1347)], range=[0, 62], anchor="y",
               tickmode="array", tickvals=X_TICKS, ticktext=[str(v) for v in X_TICKS],
               ticklabelstandoff=12, **axis_style(24)),
    yaxis=dict(domain=[py(786), py(270)], range=[0, 1.6], anchor="x",
               tickmode="array", tickvals=Y1_TICKS, ticktext=Y1_TEXT,
               ticklabelstandoff=18, **axis_style(24)),
    xaxis2=dict(domain=[px(286), px(1344)], range=[0, 62], anchor="y2",
                tickmode="array", tickvals=X_TICKS, ticktext=[str(v) for v in X_TICKS],
                ticklabelstandoff=12, **axis_style(26)),
    yaxis2=dict(domain=[py(1758), py(1360)], range=[0, 1.3], anchor="x2",
                tickmode="array", tickvals=Y2_TICKS, ticktext=Y2_TEXT,
                ticklabelstandoff=18, **axis_style(25)),
    legend=dict(x=px(1018), xanchor="left", y=py(270), yanchor="top",
                bgcolor="rgba(0,0,0,0)", borderwidth=0, itemwidth=55,
                traceorder="normal", tracegroupgap=0,
                font=dict(family=SERIF, size=22, color="black")),
    legend2=dict(x=px(760), xanchor="left", y=py(1588), yanchor="top",
                 orientation="h", traceorder="grouped", tracegroupgap=0,
                 entrywidth=221, entrywidthmode="pixels", itemwidth=55,
                 bgcolor="rgba(0,0,0,0)", borderwidth=0,
                 font=dict(family=SERIF, size=21, color="black")),
    showlegend=True,
)

# ---- shapes: header rule and legend boxes
fig.add_shape(type="line", xref="paper", yref="paper",
              x0=px(189), x1=px(1347), y0=py(210), y1=py(210),
              line=dict(color="black", width=1.5))
fig.add_shape(type="rect", xref="paper", yref="paper", layer="above",
              x0=px(966), x1=px(1339), y0=py(559), y1=py(277),
              line=dict(color="black", width=2), fillcolor="white")
fig.add_shape(type="rect", xref="paper", yref="paper", layer="above",
              x0=px(750), x1=px(1332), y0=py(1745), y1=py(1596),
              line=dict(color="black", width=2), fillcolor="white")


def note(text, x, y, size, family=SERIF, xanchor="left", angle=0):
    fig.add_annotation(text=text, x=px(x), y=py(y), xref="paper", yref="paper",
                       xanchor=xanchor, yanchor="middle", showarrow=False,
                       textangle=angle,
                       font=dict(family=family, size=size, color="black"))


BODY = 35
LX = 185  # left text column (includes annotation padding)
note("Julian Bulk", LX, 137, 34)
note("<b>Kapitel 6 – Versuchsergebnisse</b>", 766, 188, 38, xanchor="center")

# chart 1 titles
note("Raucherzeugungsrate in m²/s", 204, 528, 32, xanchor="center", angle=-90)
note("Zeit in min", 816, 862, 31, family=SANS, xanchor="center")
note("Abbildung 6.12: Raucherzeugungsraten der Hauptversuche und Bemessungskur-", LX, 919, BODY)
note("ve", 423, 960, BODY)

note("<b>6.2.8</b>", LX, 1084, 38)
note("<b>Abluftvolumenstrom</b>", 282, 1084, 38)
note("Abbildung 6.13 visualisiert die Volumenströme im Rauchabzugsystem. Der Nomi-", LX, 1166, BODY)
note("nalwert von 1,0 m³/s dient als Referenz für die Prüfung des entwickelten Brand-", LX, 1218, BODY)
note("modells in Abschnitt 7.2.8.", LX, 1269, BODY)

# chart 2 titles
note("Volumenstrom in m³/s", 201, 1559, 32, xanchor="center", angle=-90)
note("Zeit in min", 814, 1835, 31, family=SANS, xanchor="center")
note("Abbildung 6.13: Abluftvolumenströme der Hauptversuche", LX, 1888, BODY)

note("84", LX, 2249, 33)

fig.write_html("out.html", config={"displayModeBar": False})
